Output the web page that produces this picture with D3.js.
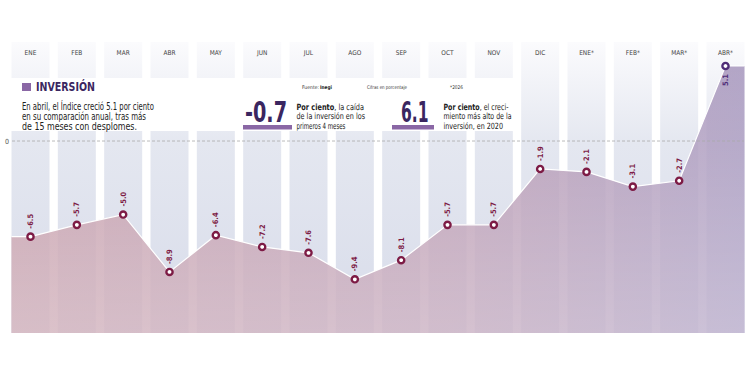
<!DOCTYPE html>
<html>
<head>
<meta charset="utf-8">
<style>
  body { margin: 0; background: #fff; }
  text { font-family: 'Liberation Sans Narrow', 'DejaVu Sans Condensed', Roboto, sans-serif; }
</style>
</head>
<body>
<svg id="chart"></svg>
<script src="https://cdn.jsdelivr.net/npm/d3@7/dist/d3.min.js"></script>
<script>
var width = 750,
    height = 375;

// Data
var months = ['ENE', 'FEB', 'MAR', 'ABR', 'MAY', 'JUN', 'JUL', 'AGO', 'SEP', 'OCT', 'NOV', 'DIC', 'ENE*', 'FEB*', 'MAR*', 'ABR*'];
var values = [-6.5, -5.7, -5.0, -8.9, -6.4, -7.2, -7.6, -9.4, -8.1, -5.7, -5.7, -1.9, -2.1, -3.1, -2.7, 5.1];
var zeroTick = [0];

var titleText = 'INVERSIÓN';
var introLines = ['En abril, el Índice creció 5.1 por ciento', 'en su comparación anual, tras más', 'de 15 meses con desplomes.'];
var noteA = { big: '-0.7', lead: 'Por ciento', lines: [', la caída', 'de la inversión en los', 'primeros 4 meses'] };
var noteB = { big: '6.1', lead: 'Por ciento', lines: [', el creci-', 'miento más alto de la', 'inversión, en 2020'] };

var dark = '#3a2660',
    accent = '#8a67a5',
    maroon = '#7d1b45';

var svg = d3.select('#chart')
  .attr('width', width)
  .attr('height', height);

var defs = svg.append('defs');

var bandGrad = defs.append('linearGradient')
  .attr('id', 'bandGrad')
  .attr('gradientUnits', 'userSpaceOnUse')
  .attr('x1', 0).attr('x2', 0).attr('y1', 42).attr('y2', 333);
bandGrad.append('stop').attr('offset', 0).attr('stop-color', '#fbfbfd');
bandGrad.append('stop').attr('offset', 0.35).attr('stop-color', '#e4e7f0');
bandGrad.append('stop').attr('offset', 1).attr('stop-color', '#d8dcea');

var areaGrad = defs.append('linearGradient')
  .attr('id', 'areaGrad')
  .attr('gradientUnits', 'userSpaceOnUse')
  .attr('x1', 11).attr('x2', 744).attr('y1', 0).attr('y2', 0);
areaGrad.append('stop').attr('offset', 0).attr('stop-color', '#c397a4');
areaGrad.append('stop').attr('offset', 0.6).attr('stop-color', '#b896ae');
areaGrad.append('stop').attr('offset', 1).attr('stop-color', '#a696bd');

var shadeGrad = defs.append('linearGradient')
  .attr('id', 'shadeGrad')
  .attr('gradientUnits', 'userSpaceOnUse')
  .attr('x1', 0).attr('x2', 0).attr('y1', 66).attr('y2', 333);
shadeGrad.append('stop').attr('offset', 0).attr('stop-color', '#fff').attr('stop-opacity', 0);
shadeGrad.append('stop').attr('offset', 1).attr('stop-color', '#fff').attr('stop-opacity', 0.3);

// Scales
var x = d3.scalePoint()
  .domain(months)
  .range([30.5, 725.5]);

var y = d3.scaleLinear()
  .domain([-9.4, 5.1])
  .range([279.3, 66]);

var bandW = 38,
    bandTop = 42,
    base = 333;

// Column bands
svg.append('g').selectAll('rect')
  .data(months)
  .enter().append('rect')
    .attr('x', function(d) { return x(d) - bandW / 2; })
    .attr('y', bandTop)
    .attr('width', bandW)
    .attr('height', base - bandTop)
    .attr('fill', 'url(#bandGrad)');

// Month labels
svg.append('g').selectAll('text')
  .data(months)
  .enter().append('text')
    .attr('x', function(d) { return x(d); })
    .attr('y', 54.5)
    .attr('text-anchor', 'middle')
    .style('font-size', '6.5px')
    .style('fill', '#444')
    .text(function(d) { return d; });

// White box behind texts
svg.append('rect')
  .attr('x', 6).attr('y', 78)
  .attr('width', 513).attr('height', 53)
  .attr('fill', '#fff');

// Area, extended flat to the band edges
var pts = values.map(function(v, i) { return { x: x(months[i]), v: v }; });
pts.unshift({ x: x(months[0]) - bandW / 2, v: values[0] });
pts.push({ x: x(months[months.length - 1]) + bandW / 2, v: values[values.length - 1] });

var area = d3.area()
  .x(function(d) { return d.x; })
  .y0(base)
  .y1(function(d) { return y(d.v); });

var line = d3.line()
  .x(function(d) { return d.x; })
  .y(function(d) { return y(d.v); });

svg.append('path')
  .datum(pts)
  .attr('d', area)
  .attr('fill', 'url(#areaGrad)')
  .attr('opacity', 0.84);

svg.append('path')
  .datum(pts)
  .attr('d', area)
  .attr('fill', 'url(#shadeGrad)');

svg.append('path')
  .datum(pts)
  .attr('d', line)
  .attr('fill', 'none')
  .attr('stroke', '#fff')
  .attr('stroke-width', 1.2);

// Zero rule
var zero = svg.append('g').selectAll('g')
  .data(zeroTick)
  .enter().append('g');

zero.append('line')
  .attr('x1', 12).attr('x2', 744)
  .attr('y1', function(d) { return y(d); })
  .attr('y2', function(d) { return y(d); })
  .attr('stroke', '#aaa')
  .attr('stroke-width', 0.8)
  .attr('stroke-dasharray', '3,2');

zero.append('text')
  .attr('x', 7)
  .attr('y', function(d) { return y(d) + 2.5; })
  .attr('text-anchor', 'middle')
  .style('font-size', '7px')
  .style('fill', '#555')
  .text(function(d) { return d; });

// Points
var last = values.length - 1;
var node = svg.append('g').selectAll('g')
  .data(values)
  .enter().append('g')
    .attr('transform', function(d, i) { return 'translate(' + x(months[i]) + ',' + y(d) + ')'; });

node.append('circle')
  .attr('r', 3.1)
  .attr('fill', '#fff')
  .attr('stroke', function(d, i) { return i === last ? '#4f2c77' : maroon; })
  .attr('stroke-width', 2.4);

node.append('text')
  .attr('transform', function(d, i) { return i === last ? 'translate(2.5,8) rotate(-90)' : 'translate(2.5,-8) rotate(-90)'; })
  .attr('text-anchor', function(d, i) { return i === last ? 'end' : 'start'; })
  .style('font-size', '7.5px')
  .style('font-weight', 'bold')
  .style('fill', function(d, i) { return i === last ? '#4f2c77' : maroon; })
  .text(function(d) { return d.toFixed(1); });

// Title block
function squeeze(sel, w) {
  sel.attr('textLength', w).attr('lengthAdjust', 'spacingAndGlyphs');
}

// squeeze horizontally with a transform, so the box matches the glyphs
function fit(sel, tx, ty, w) {
  var n = sel.node().getComputedTextLength();
  sel.attr('transform', 'translate(' + tx + ',' + ty + ') scale(' + (w / n) + ',1)');
}

svg.append('rect')
  .attr('x', 22).attr('y', 83)
  .attr('width', 9).attr('height', 8)
  .attr('fill', accent);

svg.append('text')
  .attr('x', 36).attr('y', 91)
  .style('font-size', '11.5px')
  .style('font-weight', 'bold')
  .style('fill', dark)
  .text(titleText)
  .call(squeeze, 59);

var introW = [132, 124, 115];
svg.append('g').selectAll('text')
  .data(introLines)
  .enter().append('text')
    .attr('x', 22)
    .attr('y', function(d, i) { return 109.5 + i * 10.3; })
    .style('font-size', '10px')
    .style('fill', '#222')
    .text(function(d) { return d; })
    .each(function(d, i) { d3.select(this).call(squeeze, introW[i]); });

// Source line
svg.append('text')
  .attr('x', 302).attr('y', 88.5)
  .style('font-size', '5px')
  .style('fill', '#333')
  .text('Fuente:')
  .call(squeeze, 17);

svg.append('text')
  .attr('x', 320).attr('y', 88.5)
  .style('font-size', '5px')
  .style('font-weight', 'bold')
  .style('fill', '#222')
  .text('Inegi')
  .call(squeeze, 12);

svg.append('text')
  .attr('x', 367).attr('y', 88.5)
  .style('font-size', '5px')
  .style('fill', '#333')
  .text('Cifras en porcentaje')
  .call(squeeze, 40);

svg.append('text')
  .attr('x', 450).attr('y', 88.5)
  .style('font-size', '5px')
  .style('fill', '#333')
  .text('*2026')
  .call(squeeze, 13);

// Highlight notes
function note(n, o) {
  svg.append('text')
    .attr('x', o.bigX).attr('y', 121.7)
    .style('font-size', '28px')
    .style('font-weight', 'bold')
    .style('fill', dark)
    .text(n.big)
    .call(squeeze, o.bigW);

  svg.append('rect')
    .attr('x', o.barX).attr('y', 125)
    .attr('width', o.barW).attr('height', 4.5)
    .attr('fill', accent);

  n.lines.forEach(function(l, i) {
    var t = svg.append('text')
      .style('font-size', '8.6px')
      .style('fill', '#222');
    if (i === 0) t.append('tspan').style('font-weight', 'bold').text(n.lead);
    t.append('tspan').text(l);
    t.call(fit, o.tx, 109.5 + i * 9.8, o.widths[i]);
  });
}

note(noteA, { bigX: 245, bigW: 42, barX: 243, barW: 49, tx: 296.5, widths: [67.5, 68.5, 49] });
note(noteB, { bigX: 401, bigW: 27.5, barX: 392, barW: 42, tx: 443.5, widths: [65, 68, 59.5] });
</script>
</body>
</html>
